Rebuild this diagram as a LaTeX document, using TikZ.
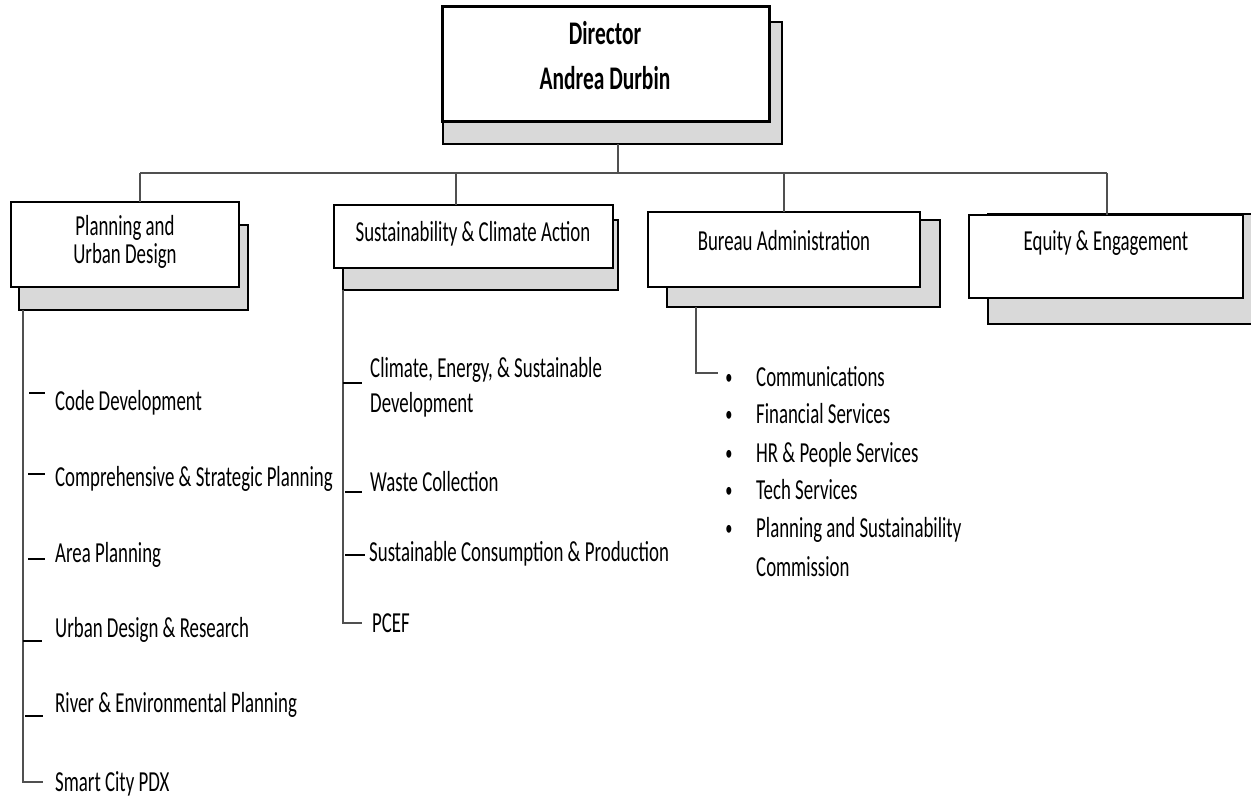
\documentclass[tikz,border=0pt]{standalone}
\usepackage{fontspec}
\setmainfont{Carlito}[FakeStretch=0.65]
\definecolor{shade}{HTML}{D9D9D9}
\definecolor{linec}{HTML}{505050}
\begin{document}
\begin{tikzpicture}[x=1pt,y=-1pt,
  shadowbox/.style={draw=black,line width=1.6pt,fill=shade,inner sep=0pt,outer sep=0pt,anchor=north west},
  frontbox/.style={draw=black,line width=1.3pt,fill=white,inner sep=0pt,outer sep=0pt,anchor=north west},
  lbl/.style={font=\fontsize{29}{31}\selectfont,inner sep=0pt,anchor=base},
  boldlbl/.style={lbl,font=\fontsize{33}{35}\selectfont\bfseries},
  item/.style={lbl,anchor=base west},
  bullet/.style={lbl,font=\fontsize{22}{24}\selectfont},
  link/.style={draw=linec,line width=1.3pt},
  tick/.style={draw=black,line width=1.2pt}]
\useasboundingbox (0,0) rectangle (1251,797);
% Director
\node[shadowbox,minimum width=339pt,minimum height=122pt] (dirS) at (443,22) {};
\node[frontbox,line width=3pt,minimum width=327pt,minimum height=115pt] (dirF) at (442,7) {};
\node[boldlbl] (dir1) at (605,45) {Director};
\node[boldlbl] (dir2) at (605,90) {Andrea Durbin};
% Departments
\node[shadowbox,minimum width=229pt,minimum height=85pt] (planS) at (19,225) {};
\node[frontbox,minimum width=228pt,minimum height=85pt] (planF) at (11,202) {};
\node[lbl] (plan1) at (125,236) {Planning and};
\node[lbl] (plan2) at (125,263) {Urban Design};

\node[shadowbox,minimum width=275pt,minimum height=70pt] (sustS) at (343,220) {};
\node[frontbox,minimum width=279pt,minimum height=63pt] (sustF) at (334,205) {};
\node[lbl] (sust1) at (473,241) {Sustainability \& Climate Action};

\node[shadowbox,minimum width=273pt,minimum height=87pt] (burS) at (667,220) {};
\node[frontbox,minimum width=272pt,minimum height=75pt] (burF) at (648,212) {};
\node[lbl] (bur1) at (784,250) {Bureau Administration};

\node[shadowbox,minimum width=280pt,minimum height=110pt] (eqS) at (988,214) {};
\node[frontbox,minimum width=274pt,minimum height=83pt] (eqF) at (969,215) {};
\node[lbl] (eq1) at (1106,250) {Equity \& Engagement};
% Bus
\coordinate (d1) at (618,173);
\coordinate (p1) at (140,173);
\coordinate (s1) at (456,173);
\coordinate (b1) at (784,173);
\coordinate (e1) at (1107,173);
\draw[link] (dirS.south -| d1) -- (d1);
\draw[link] (p1) -- (e1);
\draw[link] (p1) -- (p1 |- planF.north);
\draw[link] (s1) -- (s1 |- sustF.north);
\draw[link] (b1) -- (b1 |- burF.north);
\draw[link] (e1) -- (e1 |- eqF.north);
% Planning items
\node[item] (pc1) at (55,410) {Code Development};
\node[item] (pc2) at (55,486) {Comprehensive \& Strategic Planning};
\node[item] (pc3) at (55,562) {Area Planning};
\node[item] (pc4) at (55,637) {Urban Design \& Research};
\node[item] (pc5) at (55,712) {River \& Environmental Planning};
\node[item] (pc6) at (55,791) {Smart City PDX};
\coordinate (pv) at (23,782);
\draw[link] (planS.south -| pv) -- (pv) -- (43,782);
\draw[tick] (29,393) -- (45,393);
\draw[tick] (28,474) -- (45,474);
\draw[tick] (28,559) -- (45,559);
\draw[tick] (23,641) -- (42,641);
\draw[tick] (25,716) -- (43,716);
% Sustainability items
\node[item] (sc1) at (370,377) {Climate, Energy, \& Sustainable};
\node[item] (sc1b) at (370,412) {Development};
\node[item] (sc2) at (370,491) {Waste Collection};
\node[item] (sc3) at (369,561) {Sustainable Consumption \& Production};
\node[item] (sc4) at (372,632) {PCEF};
\coordinate (sv) at (343,623);
\draw[link] (sustS.south -| sv) -- (sv) -- (362,623);
\draw[tick] (343,383) -- (362,383);
\draw[tick] (345,492) -- (362,492);
\draw[tick] (345,555) -- (365,555);
% Bureau items
\coordinate (bv) at (696,373);
\draw[link] (burS.south -| bv) -- (bv) -- (718,373);
\foreach \y/\t [count=\i] in {386/Communications,423/Financial Services,462/HR \& People Services,499/Tech Services,537/Planning and Sustainability}{
  \node[bullet] (bb\i) at (729,\y-2) {•};
  \node[item] (bc\i) at (756,\y) {\t};
}
\node[item] (bc6) at (756,576) {Commission};
\end{tikzpicture}
\end{document}
